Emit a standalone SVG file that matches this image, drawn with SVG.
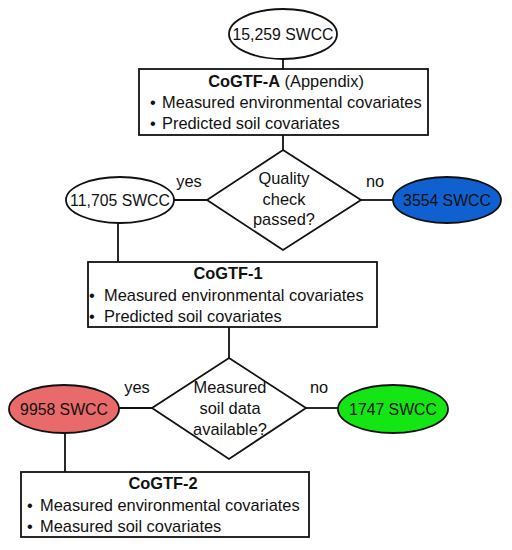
<svg xmlns="http://www.w3.org/2000/svg" width="512" height="550" viewBox="0 0 512 550">
<style>
text{font-family:"Liberation Sans",Arial,sans-serif;font-size:16.4px;fill:#111}
.c{text-anchor:middle}
.b{font-weight:bold}
.e{font-size:15.8px}
.shape{stroke:#111;stroke-width:1.8}
.w{fill:#fff}
line{stroke:#111;stroke-width:1.8}
</style>
<rect width="512" height="550" fill="#fff"/>
<g id="connectors">
<line x1="283" y1="59" x2="283" y2="69"/>
<line x1="283" y1="135" x2="283" y2="150"/>
<line x1="174" y1="200" x2="207" y2="200"/>
<line x1="361" y1="200" x2="393" y2="200"/>
<line x1="118" y1="223" x2="118" y2="262"/>
<line x1="229" y1="327" x2="229" y2="358"/>
<line x1="118" y1="408" x2="152" y2="408"/>
<line x1="306" y1="408" x2="338" y2="408"/>
<line x1="65" y1="433" x2="65" y2="472"/>
<text x="189" y="187" class="c">yes</text>
<text x="375" y="187" class="c">no</text>
<text x="137" y="393" class="c">yes</text>
<text x="319" y="393" class="c">no</text>
</g>
<g id="start">
<ellipse cx="283" cy="34" rx="54" ry="25" class="shape w"/>
<text x="283" y="40" class="c e">15,259 SWCC</text>
</g>
<g id="cogtf-a">
<rect x="139" y="69" width="289" height="66" class="shape w"/>
<text x="286" y="87" class="c"><tspan class="b">CoGTF-A</tspan> (Appendix)</text>
<text x="150" y="108">•</text><text x="162" y="108">Measured environmental covariates</text>
<text x="150" y="129">•</text><text x="162" y="129">Predicted soil covariates</text>
</g>
<g id="quality">
<polygon points="283,150 361,200 283,250 207,200" class="shape w"/>
<text x="284" y="184" class="c">Quality</text>
<text x="284" y="205" class="c">check</text>
<text x="284" y="225" class="c">passed?</text>
</g>
<g id="pass">
<ellipse cx="120" cy="200" rx="54" ry="23" class="shape w"/>
<text x="120" y="206" class="c e">11,705 SWCC</text>
</g>
<g id="fail">
<ellipse cx="447" cy="200" rx="54" ry="23" class="shape" fill="#1160d0"/>
<text x="447" y="206" class="c e">3554 SWCC</text>
</g>
<g id="cogtf-1">
<rect x="88" y="262" width="289" height="65" class="shape w"/>
<text x="228" y="279" class="c b">CoGTF-1</text>
<text x="89" y="301">•</text><text x="104" y="301">Measured environmental covariates</text>
<text x="89" y="322">•</text><text x="104" y="322">Predicted soil covariates</text>
</g>
<g id="measured">
<polygon points="229,358 306,408 229,459 152,408" class="shape w"/>
<text x="230" y="393" class="c">Measured</text>
<text x="230" y="414" class="c">soil data</text>
<text x="230" y="435" class="c">available?</text>
</g>
<g id="yes2">
<ellipse cx="64" cy="409" rx="55" ry="24" class="shape" fill="#e86a6a"/>
<text x="64" y="415" class="c e">9958 SWCC</text>
</g>
<g id="no2">
<ellipse cx="393" cy="409" rx="55" ry="24" class="shape" fill="#14e614"/>
<text x="393" y="415" class="c e">1747 SWCC</text>
</g>
<g id="cogtf-2">
<rect x="21" y="472" width="288" height="65" class="shape w"/>
<text x="163" y="489" class="c b">CoGTF-2</text>
<text x="27" y="511">•</text><text x="40" y="511">Measured environmental covariates</text>
<text x="27" y="532">•</text><text x="40" y="532">Measured soil covariates</text>
</g>
</svg>
